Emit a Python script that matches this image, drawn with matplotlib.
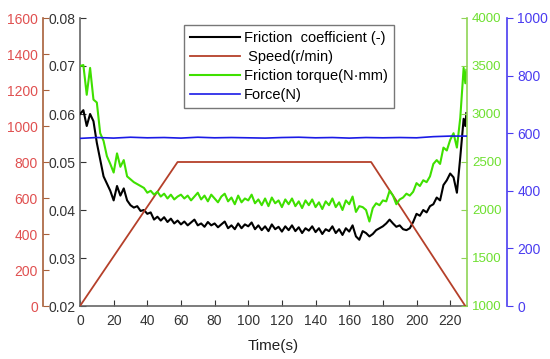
import matplotlib
matplotlib.use("Agg")
import matplotlib.pyplot as plt

plt.rcParams['font.family'] = ['Liberation Sans', 'DejaVu Sans']

# ---- data ----
time_cf = [0, 2, 4, 6, 8, 10, 12, 14, 16, 18, 20, 22, 24, 26, 28, 30, 32, 34, 36, 38,
           40, 42, 44, 46, 48, 50, 52, 54, 56, 58, 60, 62, 64, 66, 68, 70, 72, 74, 76, 78,
           80, 82, 84, 86, 88, 90, 92, 94, 96, 98, 100, 102, 104, 106, 108, 110, 112, 114, 116, 118,
           120, 122, 124, 126, 128, 130, 132, 134, 136, 138, 140, 142, 144, 146, 148, 150, 152, 154, 156, 158,
           160, 162, 164, 166, 168, 170, 172, 174, 176, 178, 180, 182, 184, 186, 188, 190, 192, 194, 196, 198,
           200, 202, 204, 206, 208, 210, 212, 214, 216, 218, 220, 222, 224, 226, 228, 229, 229.6]

friction_coef = [0.0600, 0.0608, 0.0575, 0.0600, 0.0585, 0.0540, 0.0505, 0.0470, 0.0455, 0.0440,
                 0.0420, 0.0450, 0.0430, 0.0445, 0.0420, 0.0410, 0.0405, 0.0408, 0.0398, 0.0400,
                 0.0392, 0.0395, 0.0380, 0.0386, 0.0378, 0.0385, 0.0375, 0.0382, 0.0372, 0.0378,
                 0.0370, 0.0376, 0.0368, 0.0374, 0.0380, 0.0368, 0.0372, 0.0365, 0.0375, 0.0368,
                 0.0372, 0.0364, 0.0370, 0.0376, 0.0362, 0.0368, 0.0360, 0.0372, 0.0362, 0.0370,
                 0.0366, 0.0374, 0.0360, 0.0368, 0.0358, 0.0366, 0.0356, 0.0370, 0.0360, 0.0365,
                 0.0355, 0.0366, 0.0358, 0.0368, 0.0356, 0.0364, 0.0352, 0.0362, 0.0357, 0.0366,
                 0.0354, 0.0362, 0.0350, 0.0360, 0.0356, 0.0366, 0.0352, 0.0360, 0.0348, 0.0362,
                 0.0355, 0.0368, 0.0345, 0.0338, 0.0356, 0.0352, 0.0345, 0.0350, 0.0358, 0.0362,
                 0.0366, 0.0372, 0.0380, 0.0372, 0.0365, 0.0368, 0.0360, 0.0358, 0.0362, 0.0375,
                 0.0392, 0.0388, 0.0400, 0.0395, 0.0408, 0.0412, 0.0426, 0.0420, 0.0452, 0.0462,
                 0.0476, 0.0468, 0.0436, 0.0510, 0.0590, 0.0575, 0.0602]

friction_torque = [3500, 3510, 3200, 3480, 3150, 3120, 2800, 2720, 2560, 2480,
                   2390, 2590, 2450, 2520, 2350, 2320, 2290, 2270, 2250, 2230,
                   2180, 2200, 2160, 2190, 2140, 2170, 2120, 2160, 2110, 2140,
                   2160, 2120, 2150, 2100, 2140, 2180, 2110, 2150, 2090, 2160,
                   2120, 2080, 2140, 2170, 2090, 2130, 2060, 2150, 2080, 2120,
                   2100, 2160, 2070, 2110, 2050, 2120, 2040, 2130, 2070, 2100,
                   2030, 2110, 2060, 2120, 2040, 2090, 2020, 2100, 2050, 2110,
                   2030, 2080, 2010, 2090, 2050, 2120, 2030, 2080, 2000, 2100,
                   2060, 2140, 1980, 2040, 2030, 2000, 1880, 2020, 2070, 2050,
                   2100, 2090, 2200, 2150, 2060, 2110, 2130, 2170, 2150, 2190,
                   2280, 2250, 2310, 2290, 2350, 2480, 2520, 2480, 2650, 2620,
                   2730, 2800, 2650, 2960, 3480, 3320, 3460]

time_speed = [0, 58, 173, 229]
speed = [0, 800, 800, 0]

time_force = [0, 10, 20, 30, 40, 50, 60, 70, 80, 90, 100, 110, 120, 130, 140, 150,
              160, 170, 180, 190, 200, 210, 220, 229.6]
force = [582, 585, 583, 586, 584, 585, 583, 586, 584, 585, 584, 583, 585, 586, 584, 585,
         583, 585, 584, 585, 584, 588, 590, 590]

x_ticks = [0, 20, 40, 60, 80, 100, 120, 140, 160, 180, 200, 220]
coef_ticks = [0.02, 0.03, 0.04, 0.05, 0.06, 0.07, 0.08]
speed_ticks = [0, 200, 400, 600, 800, 1000, 1200, 1400, 1600]
torque_ticks = [1000, 1500, 2000, 2500, 3000, 3500, 4000]
force_ticks = [0, 200, 400, 600, 800, 1000]

# ---- colours ----
c_black = '#000000'
c_speed = '#b5402a'
c_speed_axis = '#a8603a'
c_speed_lbl = '#e05050'
c_green = '#3fe000'
c_green_axis = '#8fd455'
c_green_lbl = '#6ee030'
c_blue = '#1a1ae6'
c_blue_lbl = '#4a3cf0'

fig = plt.figure(figsize=(5.5, 3.59), dpi=100)
L, R, B, T = 80/550, 467/550, 1-306/359, 1-18/359
ax = fig.add_axes([L, B, R-L, T-B])

ax.plot(time_cf, friction_coef, color=c_black, lw=1.5, label='Friction  coefficient (-)', zorder=3)
ax.set_xlim(0, 230)
ax.set_ylim(0.02, 0.08)
ax.set_xticks(x_ticks)
ax.set_yticks(coef_ticks)
ax.set_yticklabels(['%.2f' % v for v in coef_ticks])
ax.tick_params(axis='both', direction='in', length=4, labelsize=10, colors='#333333')
ax.tick_params(axis='x', pad=6)
for s in ['top', 'right']:
    ax.spines[s].set_visible(False)
for s in ['left', 'bottom']:
    ax.spines[s].set_color('#666666')
    ax.spines[s].set_linewidth(1.2)
ax.set_xlabel('Time(s)', fontsize=11, color='#222222', labelpad=8)

# speed axis (outer left)
axs = ax.twinx()
axs.plot(time_speed, speed, color=c_speed, lw=1.3, label=' Speed(r/min)')
axs.set_ylim(0, 1600)
axs.set_yticks(speed_ticks)
axs.yaxis.set_ticks_position('left')
axs.yaxis.set_label_position('left')
axs.spines['left'].set_position(('axes', -0.096))
axs.spines['left'].set_visible(True)
axs.spines['left'].set_color(c_speed_axis)
axs.spines['left'].set_linewidth(1.2)
for s in ['top', 'right', 'bottom']:
    axs.spines[s].set_visible(False)
axs.tick_params(axis='y', direction='in', length=4, labelsize=10, colors=c_speed_axis, labelcolor=c_speed_lbl)

# torque axis (inner right)
axt = ax.twinx()
axt.plot(time_cf, friction_torque, color=c_green, lw=1.5, label='Friction torque(N·mm)')
axt.set_ylim(1000, 4000)
axt.set_yticks(torque_ticks)
axt.spines['right'].set_color(c_green_axis)
axt.spines['right'].set_linewidth(1.2)
for s in ['top', 'left', 'bottom']:
    axt.spines[s].set_visible(False)
axt.tick_params(axis='y', direction='in', length=4, labelsize=9.5, colors=c_green_axis, labelcolor=c_green_lbl)

# force axis (outer right)
axf = ax.twinx()
axf.plot(time_force, force, color=c_blue, lw=1.2, label='Force(N)')
axf.set_ylim(0, 1000)
axf.set_yticks(force_ticks)
axf.spines['right'].set_position(('axes', 1.103))
axf.spines['right'].set_color(c_blue_lbl)
axf.spines['right'].set_linewidth(1.2)
for s in ['top', 'left', 'bottom']:
    axf.spines[s].set_visible(False)
axf.tick_params(axis='y', direction='out', length=4, labelsize=10, colors=c_blue_lbl, labelcolor=c_blue_lbl)

handles = []
labels = []
for a in [ax, axs, axt, axf]:
    h, l = a.get_legend_handles_labels()
    handles += h
    labels += l
leg = axf.legend(handles, labels, loc='upper left', bbox_to_anchor=(0.269, 0.976),
                 borderaxespad=0, fontsize=10.5, frameon=True, fancybox=False,
                 edgecolor='#555555', handlelength=3.4, handletextpad=0.3,
                 labelspacing=0.35, borderpad=0.4)
leg.get_frame().set_linewidth(1.0)
leg.set_zorder(10)

fig.savefig('out.png', dpi=100)
